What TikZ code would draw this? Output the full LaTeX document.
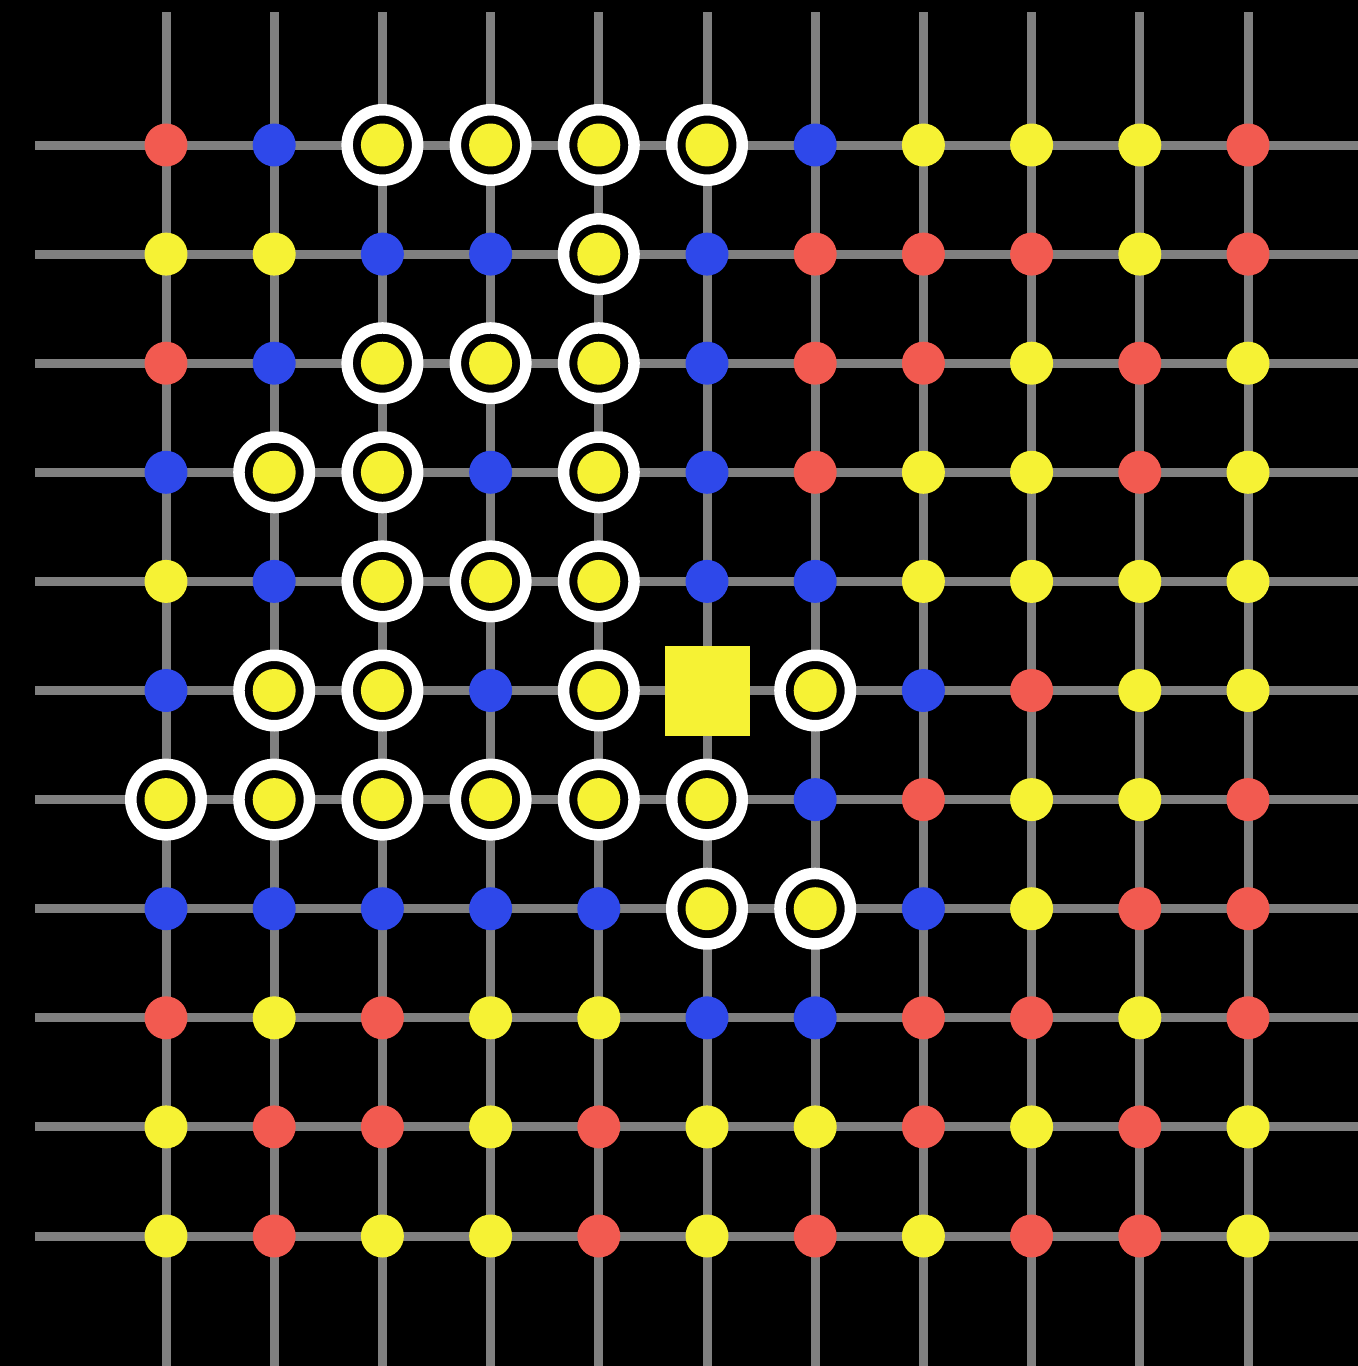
\documentclass[tikz,border=0pt]{standalone}
\usetikzlibrary{positioning}
\definecolor{wire}{RGB}{128,128,128}
\definecolor{stonered}{RGB}{242,90,80}
\definecolor{stoneblue}{RGB}{46,72,234}
\definecolor{stoneyellow}{RGB}{246,242,52}
\tikzset{
  wire/.style={draw=wire,line width=0.18cm},
  stone/.style={circle,inner sep=0pt,minimum size=0.86cm},
  st-r/.style={stone,fill=stonered},
  st-b/.style={stone,fill=stoneblue},
  st-y/.style={stone,fill=stoneyellow},
  st-c/.style={stone,fill=stoneyellow},
  st-s/.style={rectangle,inner sep=0pt,fill=stoneyellow,minimum width=1.7cm,minimum height=1.8cm},
  ring/.style={circle,inner sep=0pt,minimum size=1.41cm,draw=white,line width=0.23cm,fill=black}
}
% r red, b blue, y yellow, c circled yellow, s square
\def\board{%
  {r,b,c,c,c,c,b,y,y,y,r},
  {y,y,b,b,c,b,r,r,r,y,r},
  {r,b,c,c,c,b,r,r,y,r,y},
  {b,c,c,b,c,b,r,y,y,r,y},
  {y,b,c,c,c,b,b,y,y,y,y},
  {b,c,c,b,c,s,c,b,r,y,y},
  {c,c,c,c,c,c,b,r,y,y,r},
  {b,b,b,b,b,c,c,b,y,r,r},
  {r,y,r,y,y,b,b,r,r,y,r},
  {y,r,r,y,r,y,y,r,y,r,y},
  {y,r,y,y,r,y,r,y,r,r,y}}
\begin{document}
\begin{tikzpicture}[x=0.02cm,y=-0.02cm]
  \useasboundingbox (0,0) rectangle (1358,1366);
  \fill[black] (0,0) rectangle (1358,1366);
  % grid
  \foreach \j in {1,...,11}
    \draw[wire] (35,{\j*109.1+35.9}) -- (1358,{\j*109.1+35.9});
  \foreach \i in {1,...,11}
    \draw[wire] ({\i*108.2+57.8},12) -- ({\i*108.2+57.8},1366);
  % rings under the circled stones
  \foreach \row [count=\j] in \board
    \foreach \s [count=\i] in \row {
      \if c\s
        \node[ring] (ring-\i-\j) at ({\i*108.2+57.8},{\j*109.1+35.9}) {};
      \fi
    }
  % stones
  \foreach \row [count=\j] in \board
    \foreach \s [count=\i] in \row
      \node[st-\s] (stone-\i-\j) at ({\i*108.2+57.8},{\j*109.1+35.9}) {};
\end{tikzpicture}
\end{document}
